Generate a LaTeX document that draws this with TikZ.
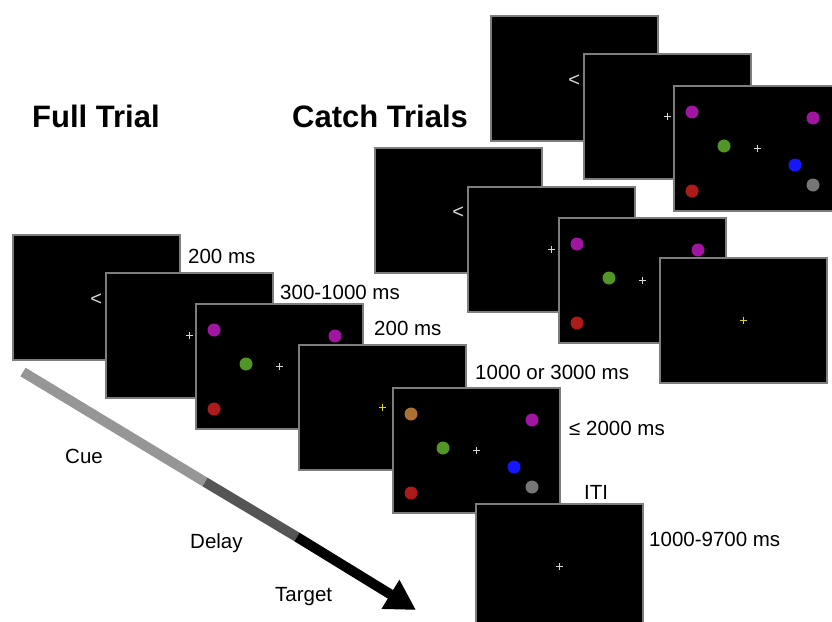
\documentclass[tikz,border=0pt]{standalone}
\usepackage{fontspec}
\setmainfont{Liberation Sans}
\usetikzlibrary{arrows.meta,calc}
\definecolor{scrborder}{RGB}{125,125,125}
\definecolor{dotpurple}{RGB}{160,22,160}
\definecolor{dotgreen}{RGB}{82,150,40}
\definecolor{dotred}{RGB}{172,26,26}
\definecolor{dotorange}{RGB}{172,112,50}
\definecolor{dotblue}{RGB}{22,22,250}
\definecolor{dotgrey}{RGB}{118,118,118}
\definecolor{fixyellow}{RGB}{215,215,40}
\definecolor{cuegray}{RGB}{150,150,150}
\definecolor{delaygray}{RGB}{85,85,85}

% one stimulus dot, offset from the screen's top left corner
\newcommand{\stimdot}[4]{\fill[#2] ($(#1.north west)+(#3,#4)$) circle[radius=6.5pt];}
% fixation cross in the middle of a screen
\newcommand{\fixcross}[2]{\draw[#2,line width=1pt] ($(#1.center)+(-3.5,0)$) -- ++(7,0) ($(#1.center)+(0,-3.5)$) -- ++(0,7);}
% four item array
\newcommand{\arrayfour}[1]{%
  \stimdot{#1}{dotpurple}{19}{27}
  \stimdot{#1}{dotgreen}{51}{61}
  \stimdot{#1}{dotred}{19}{106}
  \stimdot{#1}{dotpurple}{140}{33}
  \fixcross{#1}{white!85!black}}
% six item array
\newcommand{\arraysix}[2]{%
  \stimdot{#1}{#2}{19}{27}
  \stimdot{#1}{dotgreen}{51}{61}
  \stimdot{#1}{dotred}{19}{106}
  \stimdot{#1}{dotpurple}{140}{33}
  \stimdot{#1}{dotblue}{122}{80}
  \stimdot{#1}{dotgrey}{140}{100}
  \fixcross{#1}{white!85!black}}

\begin{document}
\begin{tikzpicture}[x=1pt,y=-1pt,
    screen/.style={draw=scrborder,fill=black,line width=1.6pt,minimum width=167pt,minimum height=125pt,inner sep=0pt,anchor=north west},
    cuesign/.style={text=white!85!black,font=\fontsize{20}{24}\selectfont,inner sep=0pt},
    title/.style={font=\fontsize{31}{36}\selectfont\bfseries,anchor=base west,inner sep=0pt},
    dur/.style={font=\fontsize{20.5}{24}\selectfont,anchor=base west,inner sep=0pt},
    timeline/.style={line width=10pt,line cap=butt}]
  \useasboundingbox (0,0) rectangle (832,621);

  % titles
  \node[title] (fulltitle) at (32,127) {Full Trial};
  \node[title] (catchtitle) at (292,127) {Catch Trials};

  % full trial
  \node[screen] (cuescr) at (12,234) {};
  \node[cuesign] (cuesym) at ($(cuescr.center)+(0,2.5)$) {<};
  \node[screen] (delayscr) at (105,272) {};
  \fixcross{delayscr}{white!85!black}
  \node[screen] (arrayscr) at (195,303) {};
  \arrayfour{arrayscr}
  \node[screen] (probescr) at (298,344) {};
  \fixcross{probescr}{fixyellow}
  \node[screen] (targetscr) at (392,387) {};
  \arraysix{targetscr}{dotorange}
  \node[screen] (itiscr) at (475,503) {};
  \fixcross{itiscr}{white!85!black}

  % durations
  \node[dur] (durcue) at (188,263) {200 ms};
  \node[dur] (durdelay) at (280,299) {300-1000 ms};
  \node[dur] (durarray) at (374,335) {200 ms};
  \node[dur] (durprobe) at (475,379) {1000 or 3000 ms};
  \node[dur] (durtarget) at (569,435) {≤ 2000 ms};
  \node[dur] (ititext) at (584,499) {ITI};
  \node[dur] (duriti) at (649,546) {1000-9700 ms};

  % catch trials, top row
  \node[screen] (catchcueA) at (490,15) {};
  \node[cuesign] (catchsymA) at ($(catchcueA.center)+(0,2.5)$) {<};
  \node[screen] (catchdelayA) at (583,53) {};
  \fixcross{catchdelayA}{white!85!black}
  \node[screen] (catcharrayA) at (673,85) {};
  \arraysix{catcharrayA}{dotpurple}

  % catch trials, second row
  \node[screen] (catchcueB) at (374,147) {};
  \node[cuesign] (catchsymB) at ($(catchcueB.center)+(0,2.5)$) {<};
  \node[screen] (catchdelayB) at (467,186) {};
  \fixcross{catchdelayB}{white!85!black}
  \node[screen] (catcharrayB) at (558,217) {};
  \arrayfour{catcharrayB}
  \node[screen] (catchprobeB) at (659,257) {};
  \fixcross{catchprobeB}{fixyellow}

  % time line
  \coordinate (tlstart) at (23,372);
  \coordinate (tlcue) at (205,482);
  \coordinate (tldelay) at (297,537);
  \coordinate (tltip) at (416,610);
  \draw[timeline,cuegray] (tlstart) -- (tlcue);
  \draw[timeline,delaygray] (tlcue) -- (tldelay);
  \draw[timeline,black,-{Triangle[length=30pt,width=32pt]}] (tldelay) -- (tltip);
  \node[dur] (cuelabel) at (65,463) {Cue};
  \node[dur] (delaylabel) at (190,548) {Delay};
  \node[dur] (targetlabel) at (275,601) {Target};
\end{tikzpicture}
\end{document}
